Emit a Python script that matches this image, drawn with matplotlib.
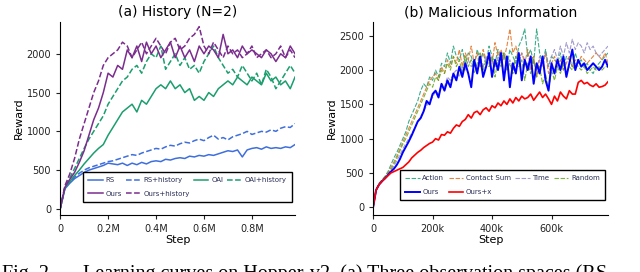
import matplotlib.pyplot as plt
import numpy as np

# ---- (a) History (N=2) ----
steps_a = np.arange(50) * 0.02  # in millions

rs = [0, 260, 330, 390, 430, 470, 500, 520, 540, 560, 590, 580, 570, 590, 560, 590, 570, 600, 580, 610,
      620, 610, 640, 630, 650, 660, 650, 680, 670, 690, 680, 700, 690, 710, 730, 750, 740, 760, 670, 760,
      780, 790, 770, 800, 780, 790, 780, 800, 790, 830]
rs_hist = [0, 270, 350, 410, 460, 500, 530, 550, 570, 590, 610, 620, 640, 660, 680, 700, 690, 720, 740, 760,
           780, 770, 800, 820, 810, 840, 860, 850, 880, 900, 880, 920, 950, 900, 920, 890, 930, 950, 970, 1000,
           960, 980, 1000, 990, 1020, 1000, 1040, 1060, 1050, 1100]
oai = [0, 270, 350, 430, 500, 580, 650, 720, 780, 830, 950, 1050, 1150, 1250, 1300, 1350, 1250, 1400, 1350, 1450,
       1550, 1600, 1550, 1650, 1550, 1600, 1500, 1550, 1400, 1450, 1400, 1500, 1450, 1550, 1600, 1650, 1600, 1700, 1650, 1600,
       1700, 1650, 1600, 1750, 1650, 1700, 1600, 1650, 1550, 1700]
oai_hist = [0, 290, 400, 520, 650, 780, 900, 1000, 1100, 1200, 1350, 1450, 1550, 1650, 1700, 1800, 1850, 1750, 1900, 2000,
            1950, 2100, 1800, 1900, 2000, 1850, 1950, 1800, 1850, 1750, 1900, 2000, 2100, 1950, 1850, 1750, 1800, 1700, 1850, 1750,
            1650, 1750, 1600, 1800, 1700, 1550, 1650, 1750, 1850, 1750]
ours = [0, 280, 380, 470, 600, 750, 950, 1150, 1300, 1500, 1750, 1700, 1850, 1800, 2050, 1950, 2100, 1900, 2150, 2000,
        2100, 1950, 2050, 2150, 1950, 2100, 1950, 2050, 1900, 2100, 2000, 2100, 2050, 1950, 2250, 2000, 2050, 1950, 2100, 2000,
        2050, 2000, 1950, 2050, 2000, 1900, 2000, 1950, 2100, 2000]
ours_hist = [0, 300, 450, 650, 900, 1100, 1300, 1500, 1650, 1850, 1950, 2000, 2050, 2150, 2100, 1950, 2050, 2150, 2000, 2100,
             2200, 2100, 2000, 2150, 2200, 2050, 2100, 2200, 2250, 2350, 2100, 2000, 2150, 2050, 1950, 2100, 2000, 2050, 1950, 2000,
             2100, 1950, 2000, 2050, 1950, 2000, 2100, 1950, 2050, 1950]

# ---- (b) Malicious Information ----
steps_b = np.arange(80) * 10000

action = [0, 260, 350, 400, 450, 520, 620, 720, 800, 900, 1000, 1100, 1250, 1350, 1450, 1550, 1700, 1800, 1750, 1900,
          1850, 2000, 1900, 2100, 2050, 2250, 2100, 2350, 2200, 2150, 2300, 2100, 2250, 2200, 2050, 2300, 2150, 2250, 2100, 2350,
          2200, 2100, 2300, 2150, 2250, 2050, 2300, 2200, 2100, 2350, 2450, 2600, 2200, 2300, 2100, 2600, 2250, 2100, 2300, 2050,
          2200, 2150, 2100, 2250, 2000, 2200, 2150, 2050, 2250, 2100, 2150, 2050, 2100, 2000, 1950, 2050, 2100, 2150, 2200, 2250]
contact = [0, 250, 340, 390, 440, 500, 580, 660, 750, 850, 950, 1050, 1150, 1250, 1350, 1450, 1550, 1650, 1750, 1850,
           1900, 1950, 1850, 2050, 1950, 2150, 2050, 2200, 2100, 2300, 2050, 2250, 2150, 2350, 2100, 2250, 2050, 2300, 2150, 2250,
           2100, 2400, 2200, 2300, 2150, 2350, 2600, 2250, 2350, 2150, 2250, 2100, 2300, 2000, 2200, 1900, 2150, 2050, 2250, 1950,
           2100, 2200, 2050, 2150, 2000, 2100, 2200, 2050, 2150, 2100, 2200, 2150, 2100, 2150, 2200, 2250, 2200, 2150, 2250, 2100]
time_ = [0, 240, 320, 370, 420, 470, 530, 600, 680, 760, 850, 930, 1000, 1080, 1150, 1250, 1320, 1400, 1480, 1550,
         1600, 1700, 1650, 1800, 1750, 1900, 1850, 1950, 2000, 1900, 2050, 2000, 2150, 2050, 2100, 2000, 2150, 2050, 2200, 2100,
         2150, 2050, 2200, 2100, 2250, 2050, 2150, 2000, 2200, 2100, 2250, 2150, 2050, 2200, 2100, 2000, 2200, 2100, 2250, 2050,
         2200, 2300, 2150, 2350, 2200, 2400, 2250, 2450, 2300, 2400, 2350, 2250, 2400, 2300, 2350, 2250, 2200, 2250, 2300, 2350]
random_ = [0, 250, 340, 390, 440, 490, 550, 630, 720, 820, 920, 1000, 1100, 1200, 1300, 1400, 1500, 1600, 1700, 1800,
           1750, 1900, 1850, 2000, 1950, 2100, 2000, 2200, 2050, 2150, 1950, 2200, 2050, 2150, 1950, 2100, 2250, 2000, 2150, 2050,
           2200, 1900, 2150, 2050, 2250, 2000, 2100, 1950, 2200, 2050, 2150, 1850, 2100, 1950, 2150, 1900, 2050, 1800, 1950, 1700,
           2000, 1850, 2050, 1950, 2100, 1950, 2050, 2000, 2100, 2050, 2000, 2050, 1950, 2000, 2050, 2000, 2050, 2000, 2050, 2050]
ours_b = [0, 250, 330, 380, 420, 470, 520, 560, 620, 700, 800, 880, 960, 1050, 1150, 1250, 1300, 1400, 1550, 1500,
          1650, 1700, 1600, 1800, 1700, 1850, 1750, 1950, 1850, 2050, 1900, 2100, 1950, 1750, 2150, 1950, 2200, 1900, 2050, 2250,
          1900, 2150, 2000, 2250, 1850, 2200, 1750, 2100, 1950, 2250, 1850, 2150, 2000, 2200, 1800, 2100, 1950, 2200, 1850, 1700,
          2100, 1950, 2150, 2000, 2200, 1900, 2100, 2300, 2000, 2150, 2050, 2100, 2000, 2050, 2100, 2050, 2000, 2050, 2150, 2050]
ours_x = [0, 250, 330, 380, 420, 460, 500, 520, 540, 560, 580, 620, 660, 720, 760, 800, 830, 870, 900, 930,
          950, 1000, 980, 1060, 1050, 1100, 1080, 1150, 1200, 1180, 1250, 1280, 1350, 1300, 1380, 1400, 1350, 1420, 1450, 1400,
          1480, 1450, 1520, 1480, 1550, 1500, 1580, 1520, 1600, 1550, 1620, 1580, 1600, 1650, 1560, 1620, 1680, 1600, 1650, 1580,
          1500, 1620, 1550, 1680, 1620, 1580, 1700, 1650, 1650, 1820, 1850, 1800, 1820, 1780, 1760, 1800, 1750, 1760, 1780, 1830]

fig = plt.figure(figsize=(6.4, 2.72), dpi=100)
ax1 = fig.add_axes([0.094, 0.21, 0.367, 0.71])
ax2 = fig.add_axes([0.583, 0.21, 0.367, 0.71])

c_rs, c_oai, c_ours = '#3f6fdc', '#1b9e6e', '#7b2d8e'
l_rs, = ax1.plot(steps_a, rs, color=c_rs, lw=1.1, label='RS')
l_rsh, = ax1.plot(steps_a, rs_hist, color=c_rs, lw=1.1, ls='--', label='RS+history')
l_oai, = ax1.plot(steps_a, oai, color=c_oai, lw=1.1, label='OAI')
l_oaih, = ax1.plot(steps_a, oai_hist, color=c_oai, lw=1.1, ls='--', label='OAI+history')
l_ours, = ax1.plot(steps_a, ours, color=c_ours, lw=1.1, label='Ours')
l_oursh, = ax1.plot(steps_a, ours_hist, color=c_ours, lw=1.1, ls='--', label='Ours+history')
ax1.set_xlim(0, 0.98)
ax1.set_ylim(-77, 2413)
ax1.set_xticks([0, 0.2, 0.4, 0.6, 0.8])
ax1.set_xticklabels(['0', '0.2M', '0.4M', '0.6M', '0.8M'])
ax1.set_yticks([0, 500, 1000, 1500, 2000])
ax1.set_title('(a) History (N=2)', fontsize=10, pad=4)

thin = dict(lw=0.8, ls=(0, (4, 1.5)), alpha=0.85)
l_act, = ax2.plot(steps_b, action, color='#1b9e77', label='Action', **thin)
l_con, = ax2.plot(steps_b, contact, color='#e07020', label='Contact Sum', **thin)
l_tim, = ax2.plot(steps_b, time_, color='#8f8ac4', label='Time', **thin)
l_ran, = ax2.plot(steps_b, random_, color='#66a61e', label='Random', **thin)
l_ob, = ax2.plot(steps_b, ours_b, color='blue', lw=1.4, label='Ours')
l_ox, = ax2.plot(steps_b, ours_x, color='red', lw=1.2, label='Ours+x')
ax2.set_xlim(0, 790000)
ax2.set_ylim(-112, 2705)
ax2.set_xticks([0, 200000, 400000, 600000])
ax2.set_xticklabels(['0', '200k', '400k', '600k'])
ax2.set_yticks([0, 500, 1000, 1500, 2000, 2500])
ax2.set_title('(b) Malicious Information', fontsize=10, pad=4)

for ax in (ax1, ax2):
    ax.spines['top'].set_visible(False)
    ax.spines['right'].set_visible(False)
    ax.tick_params(labelsize=7, length=3, width=0.8, colors='#222222')
    ax.set_xlabel('Step', fontsize=8, labelpad=1)
    ax.set_ylabel('Reward', fontsize=8, labelpad=2)

# column-major order so rows read like the reference
leg_kw = dict(loc='lower right', ncol=4, fontsize=5, handlelength=2.1, columnspacing=0.6,
              handletextpad=0.4, fancybox=False, edgecolor='black', framealpha=1,
              borderpad=0.7, labelspacing=1.1)
h1 = [l_rs, l_ours, l_rsh, l_oursh, l_oai, l_oaih]
leg1 = ax1.legend(h1, [h.get_label() for h in h1], bbox_to_anchor=(1.0, 0.05), **leg_kw)
h2 = [l_act, l_ob, l_con, l_ox, l_tim, l_ran]
leg2 = ax2.legend(h2, [h.get_label() for h in h2], bbox_to_anchor=(1.0, 0.06), **leg_kw)
for leg in (leg1, leg2):
    leg.get_frame().set_linewidth(1)
    for t in leg.get_texts():
        t.set_color('#2a2f55')

fig.text(2 / 640, -7 / 272, 'Fig. 2.', family='Liberation Serif', fontsize=14.5, va='baseline')
fig.text(83 / 640, -7 / 272, 'Learning curves on Hopper-v2. (a) Three observation spaces (RS',
         family='Liberation Serif', fontsize=14.5, va='baseline')

fig.savefig('out.png', dpi=100)
